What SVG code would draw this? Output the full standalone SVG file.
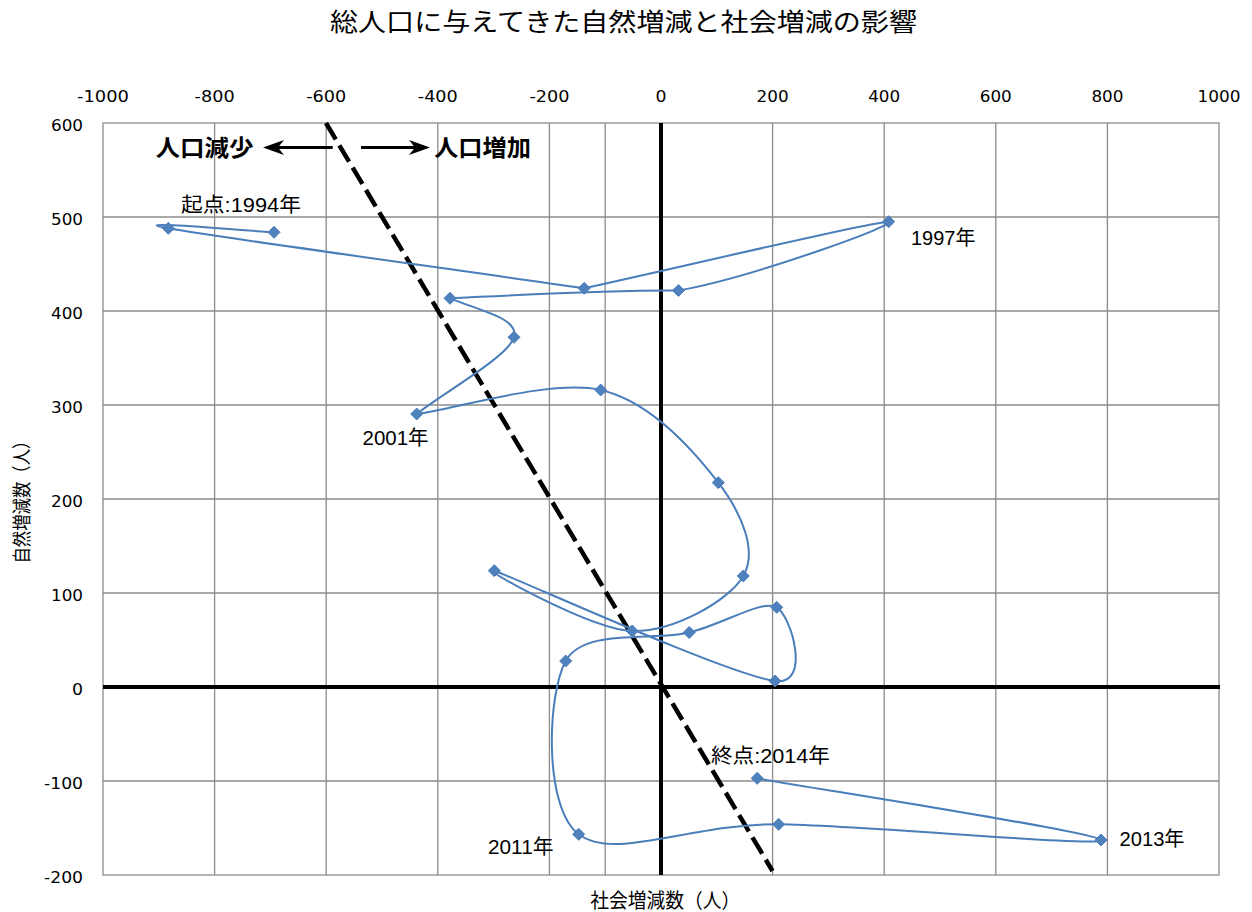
<svg xmlns="http://www.w3.org/2000/svg" xmlns:xlink="http://www.w3.org/1999/xlink" width="1252" height="912" viewBox="0 0 1252 912">
<defs>
<style>
.grid{stroke:#8c8c8c;stroke-width:1.3;fill:none}
.axis{stroke:#000;stroke-width:4;fill:none}
.tk{font-family:'DejaVu Sans','Liberation Sans',sans-serif;font-size:16px;fill:#000}
.dl{font-family:'Liberation Sans','Noto Sans CJK JP',sans-serif;font-size:20px;fill:#000}
.ttl{font-family:'Noto Sans CJK JP',sans-serif;font-size:25px;fill:#000}
.axt{font-family:'Noto Sans CJK JP',sans-serif;font-size:19px;fill:#000}
.big{font-family:'Noto Sans CJK JP',sans-serif;font-size:23px;font-weight:bold;fill:#000}
.series{stroke:#4a7ebb;stroke-width:2;fill:none}
.arr{stroke:#000;stroke-width:3.2;fill:none;marker-end:url(#ah)}
</style>
<marker id="ah" markerUnits="userSpaceOnUse" viewBox="-7 -9 23 18" markerWidth="23" markerHeight="18" refX="0" refY="0" orient="auto">
<path d="M15,0 L-6,-7.5 L0,0 L-6,7.5 Z" fill="#000"/>
</marker>
<path id="dm" d="M0,-6 L6,0 L0,6 L-6,0 Z" fill="#4f81bd" stroke="#4a7ebb" stroke-width="1"/>
</defs>
<rect width="1252" height="912" fill="#fff"/>
<text id="title" class="ttl" x="330" y="31" textLength="587" lengthAdjust="spacingAndGlyphs">総人口に与えてきた自然増減と社会増減の影響</text>
<g id="grid" class="grid">
<rect x="103" y="123" width="1116" height="752"/>
<path d="M214.6,123V875M326.2,123V875M437.8,123V875M549.4,123V875M605.2,123V875M772.6,123V875M884.2,123V875M995.8,123V875M1107.4,123V875"/>
<path d="M103,217H1219M103,311H1219M103,405H1219M103,499H1219M103,593H1219M103,781H1219"/>
</g>
<g id="axes">
<line class="axis" x1="661" y1="123" x2="661" y2="875"/>
<line class="axis" x1="103" y1="687" x2="1220" y2="687"/>
</g>
<g id="x-ticks" class="tk" text-anchor="middle">
<text x="103" y="101.7" textLength="52" lengthAdjust="spacingAndGlyphs">-1000</text>
<text x="214.6" y="101.7" textLength="40" lengthAdjust="spacingAndGlyphs">-800</text>
<text x="326.2" y="101.7" textLength="40" lengthAdjust="spacingAndGlyphs">-600</text>
<text x="437.8" y="101.7" textLength="40" lengthAdjust="spacingAndGlyphs">-400</text>
<text x="549.4" y="101.7" textLength="40" lengthAdjust="spacingAndGlyphs">-200</text>
<text x="661" y="101.7" textLength="11" lengthAdjust="spacingAndGlyphs">0</text>
<text x="772.6" y="101.7" textLength="32" lengthAdjust="spacingAndGlyphs">200</text>
<text x="884.2" y="101.7" textLength="32" lengthAdjust="spacingAndGlyphs">400</text>
<text x="995.8" y="101.7" textLength="32" lengthAdjust="spacingAndGlyphs">600</text>
<text x="1107.4" y="101.7" textLength="32" lengthAdjust="spacingAndGlyphs">800</text>
<text x="1219" y="101.7" textLength="43" lengthAdjust="spacingAndGlyphs">1000</text>
</g>
<g id="y-ticks" class="tk" text-anchor="end">
<text x="83" y="130.5" textLength="32" lengthAdjust="spacingAndGlyphs">600</text>
<text x="83" y="224.5" textLength="32" lengthAdjust="spacingAndGlyphs">500</text>
<text x="83" y="318.5" textLength="32" lengthAdjust="spacingAndGlyphs">400</text>
<text x="83" y="412.5" textLength="32" lengthAdjust="spacingAndGlyphs">300</text>
<text x="83" y="506.5" textLength="32" lengthAdjust="spacingAndGlyphs">200</text>
<text x="83" y="600.5" textLength="32" lengthAdjust="spacingAndGlyphs">100</text>
<text x="83" y="694.5" textLength="11" lengthAdjust="spacingAndGlyphs">0</text>
<text x="83" y="788.5" textLength="39" lengthAdjust="spacingAndGlyphs">-100</text>
<text x="83" y="882.5" textLength="39" lengthAdjust="spacingAndGlyphs">-200</text>
</g>
<text id="y-title" class="axt" text-anchor="middle" transform="translate(29.3,498) rotate(-90)" textLength="131" lengthAdjust="spacingAndGlyphs">自然増減数（人）</text>
<text id="x-title" class="axt" x="665.3" y="908" text-anchor="middle" style="font-size:20px" textLength="150" lengthAdjust="spacingAndGlyphs">社会増減数（人）</text>
<line id="boundary" x1="326" y1="123" x2="772.5" y2="871" stroke="#000" stroke-width="4.5" stroke-dasharray="19 7"/>
<g id="connectors">
<line class="arr" x1="332.7" y1="147.5" x2="278" y2="147.5"/>
<line class="arr" x1="361" y1="147.5" x2="415" y2="147.5"/>
</g>
<text id="lbl-decrease" class="big" x="155.5" y="155.8" textLength="98" lengthAdjust="spacingAndGlyphs">人口減少</text>
<text id="lbl-increase" class="big" x="434" y="155.8" textLength="97" lengthAdjust="spacingAndGlyphs">人口増加</text>
<g id="series">
<path class="series" d="M274,232.3 C256.4,231.6 116.6,219 168.3,228.3 C220,237.6 445.6,268.3 584.2,288.3 C685.7,266.1 872.9,221.3 888.6,221.7 C904.3,222.1 751.6,277.7 678.5,290.5 C602.5,290 500,296 450,298.3 C478,310 519.6,318 514,337.3 C508.5,356.6 440,395 416.7,414 C451.7,410 550.4,378.6 600.7,390 C651,401.5 694.5,451.7 718.3,482.7 C742.1,513.7 757.7,551.3 743.3,576 C729,600.7 673.7,631.9 632.2,631 C590.7,630.1 470.5,562.4 494.3,570.7 C518.1,579 727.9,674.9 775,681 C812,686 791,615.4 776.7,607.3 C762.4,599.2 724.4,623.6 689.2,632.5 C654,641.5 584.1,627.4 565.7,661 C547.3,694.6 543.2,807.1 578.7,834.3 C614.2,861.5 691.6,823.4 778.6,824.3 C865.7,825.3 1104.6,847.7 1101,840 C1097.4,832.3 814.5,788.6 757.2,778.3"/>
<use xlink:href="#dm" href="#dm" x="274" y="232.3"/>
<use xlink:href="#dm" href="#dm" x="168.3" y="228.3"/>
<use xlink:href="#dm" href="#dm" x="584.2" y="288.3"/>
<use xlink:href="#dm" href="#dm" x="888.6" y="221.7"/>
<use xlink:href="#dm" href="#dm" x="678.5" y="290.5"/>
<use xlink:href="#dm" href="#dm" x="450" y="298.3"/>
<use xlink:href="#dm" href="#dm" x="514" y="337.3"/>
<use xlink:href="#dm" href="#dm" x="416.7" y="414"/>
<use xlink:href="#dm" href="#dm" x="600.7" y="390"/>
<use xlink:href="#dm" href="#dm" x="718.3" y="482.7"/>
<use xlink:href="#dm" href="#dm" x="743.3" y="576"/>
<use xlink:href="#dm" href="#dm" x="632.2" y="631"/>
<use xlink:href="#dm" href="#dm" x="494.3" y="570.7"/>
<use xlink:href="#dm" href="#dm" x="775" y="681"/>
<use xlink:href="#dm" href="#dm" x="776.7" y="607.3"/>
<use xlink:href="#dm" href="#dm" x="689.2" y="632.5"/>
<use xlink:href="#dm" href="#dm" x="565.7" y="661"/>
<use xlink:href="#dm" href="#dm" x="578.7" y="834.3"/>
<use xlink:href="#dm" href="#dm" x="778.6" y="824.3"/>
<use xlink:href="#dm" href="#dm" x="1101" y="840"/>
<use xlink:href="#dm" href="#dm" x="757.2" y="778.3"/>
</g>
<g id="data-labels" class="dl">
<text x="181" y="211.8" textLength="120" lengthAdjust="spacingAndGlyphs">起点:1994年</text>
<text x="911" y="244.5" textLength="64.5" lengthAdjust="spacingAndGlyphs">1997年</text>
<text x="362.5" y="445" textLength="66" lengthAdjust="spacingAndGlyphs">2001年</text>
<text x="711" y="762.5" textLength="119" lengthAdjust="spacingAndGlyphs">終点:2014年</text>
<text x="488" y="854" textLength="65.5" lengthAdjust="spacingAndGlyphs">2011年</text>
<text x="1119.5" y="846" textLength="65" lengthAdjust="spacingAndGlyphs">2013年</text>
</g>
</svg>
